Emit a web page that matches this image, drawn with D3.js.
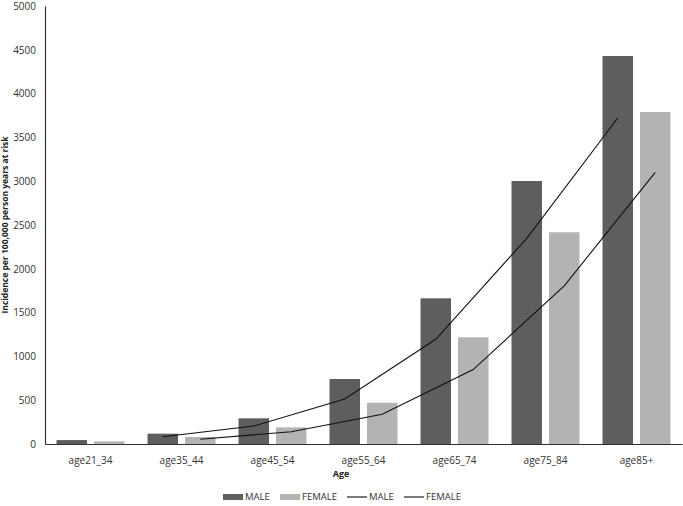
<!DOCTYPE html>
<html>

<head>
    <title>Incidence by age</title>
    <script src="https://cdn.jsdelivr.net/npm/d3@7"></script>
    <style>
        body {
            margin: 0;
            background: #fff;
        }

        svg text {
            font-family: "Open Sans", "Noto Sans", sans-serif;
        }

        .tick text {
            font-size: 10px;
            fill: #333;
        }
    </style>
</head>

<body>
    <script>
        const ageGroups = ['age21_34', 'age35_44', 'age45_54', 'age55_64', 'age65_74', 'age75_84', 'age85+']
        const maleBars = [45, 118, 293, 742, 1663, 3002, 4429]
        const femaleBars = [30, 80, 190, 471, 1218, 2417, 3790]
        // trend lines, no point for the first group
        const maleLine = [null, 82, 205, 514, 1195, 2348, 3721]
        const femaleLine = [null, 55, 140, 339, 850, 1806, 3101]
        const yTicks = [0, 500, 1000, 1500, 2000, 2500, 3000, 3500, 4000, 4500, 5000]

        const width = 683
        const height = 506
        const maleColor = '#5e5e5e'
        const femaleColor = '#b3b3b3'

        const svg = d3.select('body')
            .append('svg')
            .attr('width', width)
            .attr('height', height)

        const x0 = d3.scaleBand()
            .domain(ageGroups)
            .range([45, 682])
        const x1 = d3.scaleBand()
            .domain(['MALE', 'FEMALE'])
            .range([0, x0.bandwidth()])
            .paddingInner(0.187)
            .paddingOuter(0.307)
        const y = d3.scaleLinear()
            .domain([0, 5000])
            .range([444, 6])

        // y axis
        const yAxis = svg.append('g')
            .attr('transform', 'translate(45,0)')
            .call(d3.axisLeft(y).tickValues(yTicks).tickFormat(d3.format('d')).tickSize(0).tickPadding(9))
        yAxis.attr('font-family', null)
        yAxis.select('.domain').attr('stroke', '#333').attr('stroke-width', 1.2)

        // bars
        const groups = svg.append('g')
            .selectAll('g')
            .data(ageGroups)
            .enter()
            .append('g')
            .attr('transform', d => `translate(${x0(d)},0)`)
        groups.append('rect')
            .attr('x', x1('MALE'))
            .attr('width', x1.bandwidth())
            .attr('y', (d, i) => y(maleBars[i]))
            .attr('height', (d, i) => y(0) - y(maleBars[i]))
            .attr('fill', maleColor)
        groups.append('rect')
            .attr('x', x1('FEMALE'))
            .attr('width', x1.bandwidth())
            .attr('y', (d, i) => y(femaleBars[i]))
            .attr('height', (d, i) => y(0) - y(femaleBars[i]))
            .attr('fill', femaleColor)

        // trend lines
        const lineFor = series => d3.line()
            .defined(d => d.v !== null)
            .x(d => x0(d.age) + x1(series) + x1.bandwidth() / 2)
            .y(d => y(d.v))
        const maleData = ageGroups.map((a, i) => ({ age: a, v: maleLine[i] }))
        const femaleData = ageGroups.map((a, i) => ({ age: a, v: femaleLine[i] }))
        svg.append('path')
            .attr('d', lineFor('MALE')(maleData))
            .attr('fill', 'none')
            .attr('stroke', '#111')
            .attr('stroke-width', 1.1)
        svg.append('path')
            .attr('d', lineFor('FEMALE')(femaleData))
            .attr('fill', 'none')
            .attr('stroke', '#111')
            .attr('stroke-width', 1.1)

        // x axis
        const xAxis = svg.append('g')
            .attr('transform', 'translate(0,444)')
            .call(d3.axisBottom(x0).tickSize(0).tickPadding(13))
        xAxis.attr('font-family', null)
        xAxis.select('.domain').attr('stroke', '#333').attr('stroke-width', 1.2)

        // axis titles
        svg.append('text')
            .attr('x', 341)
            .attr('y', 477)
            .attr('text-anchor', 'middle')
            .attr('font-size', 9)
            .attr('font-weight', 'bold')
            .attr('fill', '#222')
            .text('Age')
        svg.append('text')
            .attr('transform', 'translate(8,225) rotate(-90)')
            .attr('text-anchor', 'middle')
            .attr('font-size', 8.5)
            .attr('font-weight', 'bold')
            .attr('fill', '#222')
            .text('Incidence per  100,000 person years at risk')

        // legend
        const legendItems = [
            { label: 'MALE', type: 'bar', color: maleColor, x: 223 },
            { label: 'FEMALE', type: 'bar', color: femaleColor, x: 280 },
            { label: 'MALE', type: 'line', color: '#111', x: 347 },
            { label: 'FEMALE', type: 'line', color: '#111', x: 404 }
        ]
        const legend = svg.append('g')
            .selectAll('g')
            .data(legendItems)
            .enter()
            .append('g')
            .attr('transform', d => `translate(${d.x},497)`)
        legend.filter(d => d.type === 'bar')
            .append('rect')
            .attr('x', 0)
            .attr('y', -3)
            .attr('width', 20)
            .attr('height', 6)
            .attr('fill', d => d.color)
        legend.filter(d => d.type === 'line')
            .append('line')
            .attr('x1', 0)
            .attr('x2', 20)
            .attr('stroke', d => d.color)
            .attr('stroke-width', 1.1)
        legend.append('text')
            .attr('x', 22)
            .attr('dy', '0.35em')
            .attr('font-size', 9.5)
            .attr('fill', '#333')
            .text(d => d.label)
    </script>
</body>

</html>
